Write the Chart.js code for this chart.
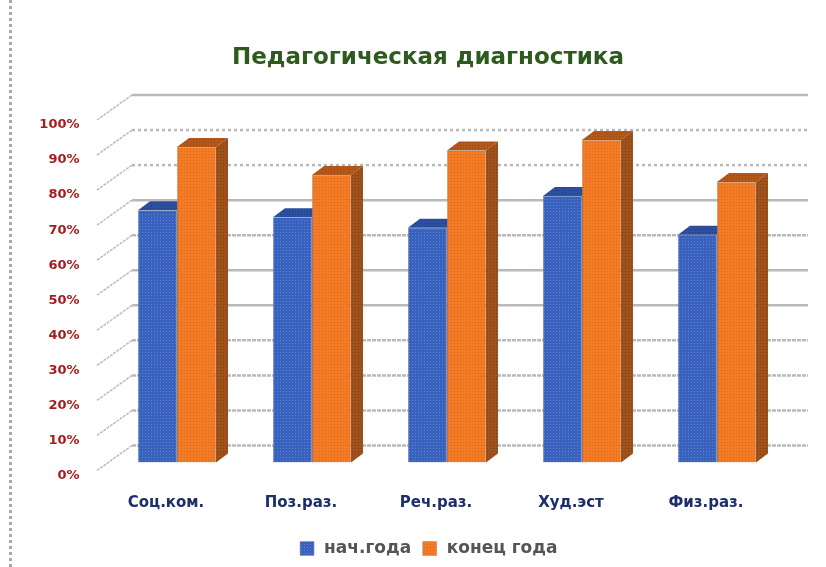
<!DOCTYPE html>
<html>
<head>
<meta charset="utf-8">
<style>
  html, body { margin: 0; padding: 0; background: #fff; overflow: hidden; }
  #wrap { position: relative; width: 826px; height: 567px; }
  #frame { position: absolute; left: 9px; top: 0; height: 567px; border-left: 3px dotted #a8a8a8; }
  canvas { filter: blur(0.55px); }
</style>
<script src="https://cdn.jsdelivr.net/npm/chart.js@4"></script>
</head>
<body>
<div id="wrap">
  <div id="frame"></div>
  <canvas id="chart" width="826" height="567"></canvas>
</div>
<script>
const categories = ["Соц.ком.", "Поз.раз.", "Реч.раз.", "Худ.эст", "Физ.раз."];
const startValues = [72, 70, 67, 76, 65];
const endValues = [90, 82, 89, 92, 80];
const seriesNames = ["нач.года", "конец года"];
const chartTitle = "Педагогическая диагностика";

// dash per gridline, bottom to top (0%..100%)
const gridDash = [[4,1], [4,1], [4,1], [4,1], [], [], [4,1], [], [3,3], [3,3], []];

// small dotted tile, the bars in the picture have this dithered look
function dots(base, dot) {
  const c = document.createElement("canvas");
  c.width = c.height = 3;
  const x = c.getContext("2d");
  x.fillStyle = base;
  x.fillRect(0, 0, 3, 3);
  x.fillStyle = dot;
  x.fillRect(1, 1, 1, 1);
  return x.createPattern(c, "repeat");
}

const blueFront = dots("#3862bd", "#5a80cf");
const orangeFront = dots("#f57a24", "#cf6a24");
const faces = [
  { top: dots("#2c509f", "#1f3f88"), side: dots("#2c4f96", "#1f3f88") },
  { top: dots("#b4581a", "#96480f"), side: dots("#a0521c", "#7c4012") },
];

// depth of the 3d box
const depthX = 12, depthY = 9;

const wallPlugin = {
  id: "wall",
  beforeDatasetsDraw(chart) {
    const ctx = chart.ctx, y = chart.scales.y;
    ctx.save();
    y.ticks.forEach((t, i) => {
      const py = y.getPixelForValue(t.value);
      // back wall line
      ctx.strokeStyle = "#b9b9b9";
      ctx.lineWidth = 2.5;
      ctx.setLineDash(gridDash[i]);
      ctx.beginPath();
      ctx.moveTo(132, py - 17);
      ctx.lineTo(808, py - 17);
      ctx.stroke();
      // side wall line
      ctx.strokeStyle = "#bcbcbc";
      ctx.lineWidth = 1.5;
      ctx.setLineDash([3, 1]);
      ctx.beginPath();
      ctx.moveTo(97, py + 8);
      ctx.lineTo(132, py - 17);
      ctx.stroke();
    });
    ctx.setLineDash([]);
    // top and side of every bar, front faces are drawn by the library over these
    chart.data.datasets.forEach((ds, d) => {
      chart.getDatasetMeta(d).data.forEach((bar) => {
        const l = bar.x - bar.width / 2, r = bar.x + bar.width / 2;
        ctx.fillStyle = faces[d].top;
        ctx.beginPath();
        ctx.moveTo(l, bar.y);
        ctx.lineTo(l + depthX, bar.y - depthY);
        ctx.lineTo(r + depthX, bar.y - depthY);
        ctx.lineTo(r, bar.y);
        ctx.closePath();
        ctx.fill();
        ctx.fillStyle = faces[d].side;
        ctx.beginPath();
        ctx.moveTo(r, bar.y);
        ctx.lineTo(r + depthX, bar.y - depthY);
        ctx.lineTo(r + depthX, bar.base - depthY);
        ctx.lineTo(r, bar.base);
        ctx.closePath();
        ctx.fill();
      });
    });
    ctx.restore();
  },
};

new Chart(document.getElementById("chart"), {
  type: "bar",
  data: {
    labels: categories,
    datasets: [
      { label: seriesNames[0], data: startValues, backgroundColor: blueFront, borderColor: "#8f8f8f", borderWidth: 0.5 },
      { label: seriesNames[1], data: endValues, backgroundColor: orangeFront, borderColor: "#8f8f8f", borderWidth: 0.5 },
    ],
  },
  options: {
    responsive: false,
    animation: false,
    layout: { padding: { left: 30, right: 0, top: 0, bottom: 0 } },
    datasets: { bar: { categoryPercentage: 0.578, barPercentage: 1 } },
    plugins: {
      title: {
        display: true,
        text: chartTitle,
        color: "#2f5a1e",
        font: { family: "DejaVu Sans", size: 23, weight: "bold" },
        padding: { top: 44, bottom: 40.4 },
      },
      legend: {
        position: "bottom",
        labels: {
          usePointStyle: true,
          pointStyle: "rect",
          boxHeight: 14,
          color: "#555555",
          padding: 10,
          font: { family: "DejaVu Sans", size: 17, weight: "bold" },
        },
      },
      tooltip: { enabled: false },
    },
    scales: {
      x: {
        grid: { display: false },
        border: { display: false },
        afterFit(scale) { scale.height = 67.5; },
        ticks: {
          color: "#1d2f6b",
          padding: 24,
          labelOffset: -11,
          maxRotation: 0,
          font: { family: "DejaVu Sans", size: 15, weight: "bold" },
        },
      },
      y: {
        min: 0,
        max: 100,
        grid: { display: false, drawTicks: false },
        border: { display: false },
        afterFit(scale) { scale.width = 79.5; },
        ticks: {
          stepSize: 10,
          color: "#a81c1c",
          padding: 30,
          labelOffset: 13,
          font: { family: "DejaVu Sans", size: 13, weight: "bold" },
          callback: (v) => v + "%",
        },
      },
      // empty axis, only keeps the plot clear of the right edge while the title stays centred
      spacer: {
        axis: "y",
        position: "right",
        grid: { display: false, drawTicks: false },
        border: { display: false },
        ticks: { display: false },
        afterFit(scale) { scale.width = 41.5; },
      },
    },
  },
  plugins: [wallPlugin],
});
</script>
</body>
</html>
